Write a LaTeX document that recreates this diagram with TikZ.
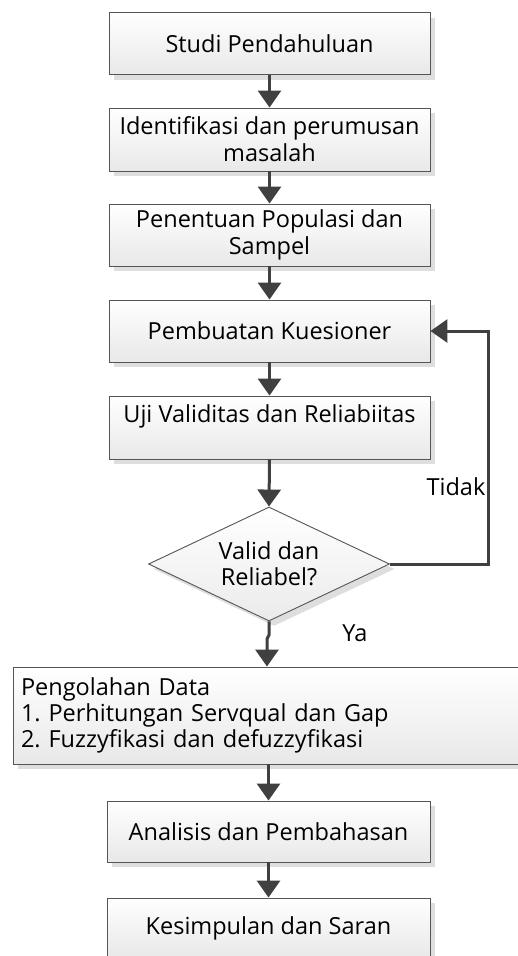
\documentclass[tikz,border=0pt]{standalone}
\usepackage{fontspec}
\setmainfont{Open Sans}
\usetikzlibrary{arrows.meta,shapes.geometric,shadows}
\definecolor{arr}{HTML}{404040}
\definecolor{brd}{HTML}{555555}
\frenchspacing
\tikzset{
  box/.style={draw=brd, line width=0.9pt, top color=white, bottom color=black!9,
    drop shadow={shadow xshift=5pt, shadow yshift=-5pt, fill=black!13, opacity=1},
    minimum width=321pt, minimum height=62pt, inner sep=0pt, align=center,
    font=\fontsize{23.5}{27}\selectfont},
  dec/.style={draw=brd, line width=0.9pt, diamond, aspect=2.11, top color=white, bottom color=black!8,
    drop shadow={shadow xshift=5pt, shadow yshift=-5pt, fill=black!13, opacity=1},
    minimum width=241pt, minimum height=114pt, inner sep=0pt, align=center,
    font=\fontsize{23.5}{26}\selectfont},
  flow/.style={draw=arr, line width=3pt, -{Triangle[width=23pt,length=17pt]}},
  lbl/.style={font=\fontsize{23.5}{27}\selectfont, inner sep=0pt},
}
\begin{document}
\begin{tikzpicture}[x=1pt,y=-1pt]
\clip (0,0) rectangle (518,956);
\fill[white] (0,0) rectangle (518,956);
\node[box] (b1) at (269.5,43.5) {Studi Pendahuluan};
\node[box, minimum height=63pt] (b2) at (269.5,139.5) {Identifikasi dan perumusan\\masalah};
\node[box] (b3) at (269.5,235) {Penentuan Populasi dan\\Sampel};
\node[box] (b4) at (269.5,331) {Pembuatan Kuesioner};
\node[box, minimum height=63pt] (b5) at (269.5,427.5) {Uji Validitas dan Reliabiitas\\\mbox{}};
\node[dec] (d) at (269,564) {Valid dan\\Reliabel?};
\node[box, minimum width=527pt, minimum height=97pt, align=left, text width=511pt,
  font=\fontsize{23.5}{26}\selectfont] (b6) at (276.5,715.5)
  {Pengolahan Data\\1. Perhitungan Servqual dan Gap\\2. Fuzzyfikasi dan defuzzyfikasi};
\node[box, minimum width=323pt, minimum height=61pt] (b7) at (268.5,831.5) {Analisis dan Pembahasan};
\node[box, minimum width=323pt, minimum height=61pt] (b8) at (268.5,928.5) {Kesimpulan dan Saran};
\coordinate (j1) at (269,635);
\coordinate (j2) at (267,639);
\coordinate (r1) at (488,564);
\coordinate (r2) at (488,331);
\draw[flow] (b1.south) -- (b2.north);
\draw[flow] (b2.south) -- (b3.north);
\draw[flow] (b3.south) -- (b4.north);
\draw[flow] (b4.south) -- (b5.north);
\draw[flow] (b5.south) -- (d.north);
\draw[flow] (d.south) -- (j1) -- (j2) -- (j2 |- b6.north);
\draw[flow] (d.east) -- (r1) -- (r2) -- (b4.east);
\draw[flow] (b6.south -| b7.north) -- (b7.north);
\draw[flow] (b7.south) -- (b8.north);
\node[lbl] (tidak) at (456,487) {Tidak};
\node[lbl] (ya) at (355,633) {Ya};
\end{tikzpicture}
\end{document}
